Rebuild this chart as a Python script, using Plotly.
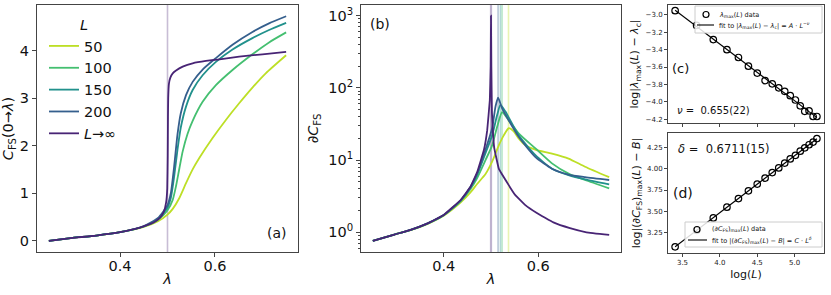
import numpy as np
import plotly.graph_objects as go

W, H = 831, 295
FONT = "DejaVu Sans"

# ---------------- data: panel (a)  C_FS(0->lambda) ----------------
L_labels = ["50", "100", "150", "200", "<i>L</i>→∞"]

lam_a_50 = [0.25, 0.30, 0.35, 0.40, 0.45, 0.48, 0.50, 0.511, 0.525, 0.539, 0.553, 0.567, 0.595, 0.623, 0.651, 0.679, 0.707, 0.75]
cfs_50 = [0.00, 0.06, 0.11, 0.18, 0.29, 0.41, 0.55, 0.67, 0.90, 1.21, 1.50, 1.74, 2.16, 2.54, 2.89, 3.22, 3.52, 3.90]

lam_a_100 = [0.25, 0.30, 0.35, 0.40, 0.45, 0.48, 0.50, 0.511, 0.518, 0.525, 0.532, 0.542, 0.553, 0.574, 0.602, 0.637, 0.679, 0.714, 0.75]
cfs_100 = [0.00, 0.06, 0.11, 0.18, 0.30, 0.44, 0.64, 0.86, 1.15, 1.52, 1.88, 2.24, 2.52, 2.92, 3.27, 3.59, 3.92, 4.17, 4.38]

lam_a_150 = [0.25, 0.30, 0.35, 0.40, 0.45, 0.48, 0.50, 0.507, 0.514, 0.521, 0.528, 0.539, 0.553, 0.574, 0.602, 0.637, 0.679, 0.714, 0.75]
cfs_150 = [0.00, 0.06, 0.11, 0.18, 0.30, 0.46, 0.70, 0.90, 1.35, 1.91, 2.38, 2.82, 3.17, 3.48, 3.76, 4.02, 4.26, 4.43, 4.58]

lam_a_200 = [0.25, 0.30, 0.35, 0.40, 0.45, 0.48, 0.50, 0.507, 0.514, 0.521, 0.528, 0.539, 0.553, 0.574, 0.602, 0.637, 0.679, 0.714, 0.75]
cfs_200 = [0.00, 0.06, 0.11, 0.18, 0.31, 0.48, 0.75, 1.00, 1.56, 2.23, 2.68, 3.06, 3.34, 3.60, 3.84, 4.12, 4.39, 4.57, 4.72]

lam_a_inf = [0.25, 0.30, 0.35, 0.40, 0.44, 0.47, 0.484, 0.492, 0.497, 0.4995, 0.5005, 0.501, 0.5015, 0.503, 0.506, 0.511, 0.518, 0.532, 0.553, 0.581, 0.606, 0.651, 0.70, 0.75]
cfs_inf = [0.00, 0.06, 0.11, 0.18, 0.27, 0.38, 0.48, 0.60, 0.80, 1.10, 1.80, 2.60, 3.00, 3.30, 3.43, 3.52, 3.58, 3.66, 3.73, 3.78, 3.81, 3.87, 3.92, 3.97]

lam_c_line = [0.5]

# ---------------- data: panel (b)  dC_FS (log) ----------------
lam_b_50 = [0.25, 0.2955, 0.33, 0.366, 0.40, 0.436, 0.457, 0.471, 0.4884, 0.5024, 0.5165, 0.527, 0.5375, 0.548, 0.5585, 0.573, 0.5936, 0.629, 0.664, 0.699, 0.75]
dcfs_50 = [0.76, 0.93, 1.07, 1.31, 1.70, 2.6, 3.6, 4.7, 6.4, 9.5, 16, 22, 27.6, 25, 20, 16, 14, 12.3, 10.5, 8.1, 5.8]

lam_b_100 = [0.25, 0.2955, 0.33, 0.366, 0.40, 0.436, 0.457, 0.471, 0.4884, 0.5024, 0.513, 0.5235, 0.5375, 0.5585, 0.594, 0.629, 0.664, 0.699, 0.75]
dcfs_100 = [0.76, 0.93, 1.08, 1.32, 1.72, 2.7, 4.0, 5.7, 10.0, 16, 29, 46, 35.5, 23.5, 14.5, 9.0, 6.5, 5.3, 4.07]

lam_b_150 = [0.25, 0.2955, 0.33, 0.366, 0.40, 0.436, 0.457, 0.471, 0.4884, 0.5024, 0.513, 0.520, 0.5305, 0.5585, 0.594, 0.629, 0.664, 0.699, 0.75]
dcfs_150 = [0.76, 0.93, 1.08, 1.33, 1.73, 2.75, 4.2, 6.3, 12.5, 22, 42, 58, 47, 22, 11.7, 7.6, 6.2, 5.4, 4.6]

lam_b_200 = [0.25, 0.2955, 0.33, 0.366, 0.40, 0.436, 0.457, 0.471, 0.4884, 0.5024, 0.5095, 0.515, 0.5235, 0.5375, 0.5585, 0.594, 0.629, 0.664, 0.699, 0.75]
dcfs_200 = [0.76, 0.93, 1.08, 1.33, 1.74, 2.78, 4.3, 6.6, 14, 27.6, 55, 73, 52, 35.5, 21, 11, 7.6, 6.3, 5.8, 5.3]

lam_b_inf = [0.25, 0.2955, 0.33, 0.366, 0.40, 0.436, 0.457, 0.471, 0.485, 0.492, 0.4975, 0.4993, 0.5, 0.5007, 0.502, 0.5045, 0.507, 0.5165, 0.5375, 0.551, 0.572, 0.597, 0.632, 0.667, 0.702, 0.75]
dcfs_inf = [0.76, 0.93, 1.08, 1.33, 1.74, 2.8, 4.3, 6.9, 13.8, 26, 68, 200, 1000, 200, 45, 22, 14.5, 7.6, 4.5, 3.3, 2.4, 1.85, 1.37, 1.14, 1.0, 0.92]

lam_peak = [0.537, 0.5235, 0.520, 0.515, 0.5]

# ---------------- data: panels (c), (d) ----------------
L_sizes = [30, 40, 50, 60, 70, 80, 90, 100, 110, 120, 130, 140, 150, 160, 170, 180, 190, 200]
log_dlam = [-2.95, -3.12, -3.283, -3.40, -3.49, -3.59, -3.67, -3.756, -3.794, -3.84,
            -3.88, -3.93, -3.98, -4.047, -4.11, -4.105, -4.17, -4.17]
log_dcmax = [3.083, 3.276, 3.422, 3.549, 3.649, 3.74, 3.82, 3.89, 3.955, 4.01,
             4.067, 4.115, 4.158, 4.206, 4.246, 4.282, 4.313, 4.354]
nu_text = "0.655(22)"
delta_text = "0.6711(15)"
leg_c = ["<i>λ</i><sub>max</sub>(<i>L</i>) data",
         "fit to |<i>λ</i><sub>max</sub>(<i>L</i>) − <i>λ</i><sub>c</sub>| = <i>A</i> · <i>L</i><sup>−<i>ν</i></sup>"]
leg_d = ["(∂<i>C</i><sub>FS</sub>)<sub>max</sub>(<i>L</i>) data",
         "fit to |(∂<i>C</i><sub>FS</sub>)<sub>max</sub>(<i>L</i>) − <i>B</i>| = <i>C</i> · <i>L</i><sup><i>δ</i></sup>"]

colors = ["#bddf26", "#44bf70", "#21918c", "#355f8d", "#482475"]

# ---------------- figure ----------------
fig = go.Figure()

series_a = [(lam_a_50, cfs_50), (lam_a_100, cfs_100), (lam_a_150, cfs_150),
            (lam_a_200, cfs_200), (lam_a_inf, cfs_inf)]
for i, (lx, ly) in enumerate(series_a):
    fig.add_trace(go.Scatter(x=lx, y=ly, mode="lines", name=L_labels[i],
                             line=dict(color=colors[i], width=1.8,
                                       shape="spline", smoothing=0.6 if i < 4 else 0.3),
                             xaxis="x", yaxis="y"))

series_b = [(lam_b_50, dcfs_50), (lam_b_100, dcfs_100), (lam_b_150, dcfs_150),
            (lam_b_200, dcfs_200), (lam_b_inf, dcfs_inf)]
for i, (lx, ly) in enumerate(series_b):
    fig.add_trace(go.Scatter(x=lx, y=ly, mode="lines", showlegend=False,
                             line=dict(color=colors[i], width=1.8,
                                       shape="spline", smoothing=0.6 if i < 4 else 0.2),
                             xaxis="x2", yaxis="y2"))

logL = np.log(np.array(L_sizes, dtype=float))
p_c = np.polyfit(logL, log_dlam, 1)
p_d = np.polyfit(logL, log_dcmax, 1)
xfit = np.array([logL.min(), logL.max()])

marker_style = dict(symbol="circle-open", size=6.5, color="black", line=dict(width=1.2))
fig.add_trace(go.Scatter(x=xfit, y=np.polyval(p_c, xfit), mode="lines", showlegend=False,
                         line=dict(color="black", width=1.1), xaxis="x3", yaxis="y3"))
fig.add_trace(go.Scatter(x=logL, y=log_dlam, mode="markers", showlegend=False,
                         marker=marker_style, xaxis="x3", yaxis="y3"))
fig.add_trace(go.Scatter(x=xfit, y=np.polyval(p_d, xfit), mode="lines", showlegend=False,
                         line=dict(color="black", width=1.1), xaxis="x4", yaxis="y4"))
fig.add_trace(go.Scatter(x=logL, y=log_dcmax, mode="markers", showlegend=False,
                         marker=marker_style, xaxis="x4", yaxis="y4"))

# vertical reference lines
for xv in lam_c_line:
    fig.add_shape(type="line", x0=xv, x1=xv, y0=0, y1=1, xref="x", yref="y domain",
                  line=dict(color="rgba(72,36,117,0.3)", width=1.6), layer="below")
for i, xv in enumerate(lam_peak):
    c = colors[i]
    r, g, b = int(c[1:3], 16), int(c[3:5], 16), int(c[5:7], 16)
    fig.add_shape(type="line", x0=xv, x1=xv, y0=0, y1=1, xref="x2", yref="y2 domain",
                  line=dict(color=f"rgba({r},{g},{b},0.35)", width=1.6 if i < 4 else 2.2), layer="below")


# domains from pixel boxes
def xd(a, b):
    return [a / W, b / W]


def yd(top, bottom):
    return [1 - bottom / H, 1 - top / H]


def px(x):
    return x / W


def py(y):
    return 1 - y / H


axis_common = dict(showline=True, mirror=True, linecolor="#444", linewidth=1,
                   ticks="outside", tickcolor="#444", showgrid=False, zeroline=False,
                   automargin=False)

big = dict(family=FONT, size=14.5, color="#111")
small = dict(family=FONT, size=7, color="#222")

fig.update_layout(
    width=W, height=H, margin=dict(l=0, r=0, t=0, b=0),
    paper_bgcolor="white", plot_bgcolor="white",
    font=dict(family=FONT, color="#111"),
    xaxis=dict(domain=xd(37, 298), range=[0.225, 0.775], tickvals=[0.4, 0.6], ticklen=4,
               anchor="y", tickfont=big, ticklabelstandoff=-3,
               title=dict(text="<i>λ</i>", font=big, standoff=0), **axis_common),
    yaxis=dict(domain=yd(5, 252), range=[-0.236, 4.956], tickvals=[0, 1, 2, 3, 4], ticklen=4,
               anchor="x", tickfont=big,
               title=dict(text="<i>C</i><sub>FS</sub>(0→<i>λ</i>)", font=big, standoff=4),
               **axis_common),
    xaxis2=dict(domain=xd(361, 621), range=[0.225, 0.775], tickvals=[0.4, 0.6], ticklen=4,
                anchor="y2", tickfont=big, ticklabelstandoff=-3,
                title=dict(text="<i>λ</i>", font=big, standoff=0), **axis_common),
    yaxis2=dict(domain=yd(5, 252), type="log", range=[-0.273, 3.148], anchor="x2",
                tickvals=[1, 10, 100, 1000],
                ticktext=["10<sup>0</sup>", "10<sup>1</sup>", "10<sup>2</sup>", "10<sup>3</sup>"],
                ticklen=4, tickfont=big,
                minor=dict(ticks="outside", ticklen=2, tickcolor="#444",
                           tickvals=[m * 10 ** k for k in range(-1, 4) for m in range(2, 10)]),
                title=dict(text="∂<i>C</i><sub>FS</sub>", font=big, standoff=6), **axis_common),
    xaxis3=dict(domain=xd(668, 824), range=[3.306, 5.393], tickvals=[3.5, 4.0, 4.5, 5.0],
                showticklabels=False, ticklen=3, anchor="y3", **axis_common),
    yaxis3=dict(domain=yd(5, 123), range=[-4.245, -2.885], tickvals=[-3.0, -3.2, -3.4, -3.6, -3.8, -4.0, -4.2],
                tickformat=".1f", ticklen=3, tickfont=small, anchor="x3",
                title=dict(text="log|<i>λ</i><sub>max</sub>(<i>L</i>) − <i>λ</i><sub>c</sub>|",
                           font=dict(family=FONT, size=11, color="#111"), standoff=4),
                **axis_common),
    xaxis4=dict(domain=xd(668, 824), range=[3.306, 5.393], tickvals=[3.5, 4.0, 4.5, 5.0],
                tickformat=".1f", ticklen=3, tickfont=small, anchor="y4",
                title=dict(text="log(<i>L</i>)", font=dict(family=FONT, size=11, color="#111"), standoff=3),
                **axis_common),
    yaxis4=dict(domain=yd(133, 253), range=[3.01, 4.42], tickvals=[3.25, 3.5, 3.75, 4.0, 4.25],
                tickformat=".2f", ticklen=3, tickfont=small, anchor="x4",
                title=dict(text="log|(∂<i>C</i><sub>FS</sub>)<sub>max</sub>(<i>L</i>) − <i>B</i>|",
                           font=dict(family=FONT, size=11, color="#111"), standoff=4),
                **axis_common),
    legend=dict(x=44 / W, y=1 - 30 / H, xanchor="left", yanchor="top",
                bgcolor="rgba(0,0,0,0)", font=big, itemwidth=30),
    showlegend=True,
)

C = dict(xanchor="center", yanchor="middle", showarrow=False)
LFT = dict(xanchor="left", yanchor="middle", showarrow=False)

# legend title of panel (a)
fig.add_annotation(text="<i>L</i>", xref="paper", yref="paper", x=px(84), y=py(25), font=big, **C)

ann_font = dict(family=FONT, size=14, color="#111")
fig.add_annotation(text="(a)", xref="x domain", yref="y domain", x=0.92, y=0.077, font=ann_font, **C)
fig.add_annotation(text="(b)", xref="x2 domain", yref="y2 domain", x=0.073, y=0.923, font=ann_font, **C)
fig.add_annotation(text="(c)", xref="x3 domain", yref="y3 domain", x=0.083, y=0.466,
                   font=dict(family=FONT, size=13, color="#111"), **C)
fig.add_annotation(text="<i>ν</i> =  " + nu_text, xref="x3 domain", yref="y3 domain", x=0.045, y=0.11,
                   font=dict(family=FONT, size=10, color="#111"), **LFT)
fig.add_annotation(text="(d)", xref="x4 domain", yref="y4 domain", x=0.098, y=0.4975,
                   font=dict(family=FONT, size=14, color="#111"), **C)
fig.add_annotation(text="<i>δ</i> =  " + delta_text, xref="x4 domain", yref="y4 domain", x=0.051, y=0.87,
                   font=dict(family=FONT, size=11.5, color="#111"), **LFT)


# small framed legends of panels (c) and (d)
def small_legend(box, marker_xy, line_xy, text_x, labels, ys):
    x0, y0, x1, y1 = box
    fig.add_shape(type="rect", xref="paper", yref="paper", x0=px(x0), x1=px(x1), y0=py(y1), y1=py(y0),
                  fillcolor="rgba(255,255,255,0.85)", line=dict(color="#cccccc", width=1), layer="above")
    mx, my = marker_xy
    r = 3.0
    fig.add_shape(type="circle", xref="paper", yref="paper", x0=px(mx - r), x1=px(mx + r),
                  y0=py(my + r), y1=py(my - r), line=dict(color="black", width=1.2), layer="above")
    lx0, lx1, ly = line_xy
    fig.add_shape(type="line", xref="paper", yref="paper", x0=px(lx0), x1=px(lx1), y0=py(ly), y1=py(ly),
                  line=dict(color="black", width=1.1), layer="above")
    for lab, yy in zip(labels, ys):
        fig.add_annotation(text=lab, xref="paper", yref="paper", x=px(text_x), y=py(yy),
                           font=dict(family=FONT, size=6.5, color="#111"), **LFT)


small_legend((695, 6, 822, 33), (706, 14.5), (697, 714, 25), 717, leg_c, [14.5, 25])
small_legend((685, 222, 822, 247), (697, 229.5), (688, 707, 240), 710, leg_d, [229.5, 240])

fig.write_html("out.html", config={"displayModeBar": False},
               post_script="document.body.style.margin='0px';")
